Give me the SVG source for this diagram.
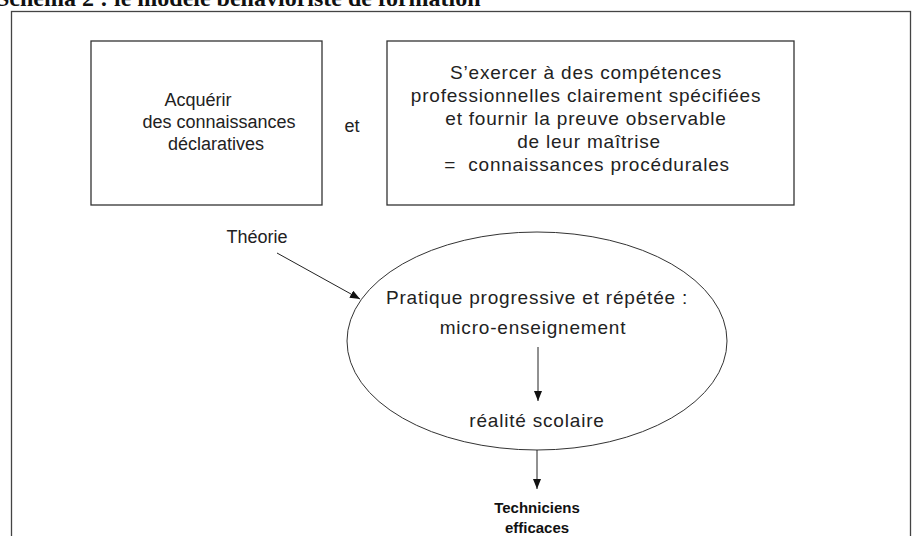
<svg xmlns="http://www.w3.org/2000/svg" width="912" height="536" viewBox="0 0 912 536">
<defs>
<style>
.t{font-family:"Liberation Sans",Arial,sans-serif;font-size:18px;fill:#222;text-anchor:middle}
.w{font-family:"Liberation Sans",Arial,sans-serif;font-size:19px;letter-spacing:0.8px;fill:#222;text-anchor:middle}
.b{font-family:"Liberation Sans",Arial,sans-serif;font-size:15px;font-weight:bold;fill:#111;text-anchor:middle}
.box{fill:#fff;stroke:#333;stroke-width:1.3}
.ln{stroke:#222;stroke-width:1;fill:none}
</style>
<marker id="ah" viewBox="0 0 10 8" refX="10" refY="4" markerWidth="10" markerHeight="8" markerUnits="userSpaceOnUse" orient="auto">
<path d="M0,0 L10,4 L0,8 Z" fill="#111"/>
</marker>
</defs>
<rect width="912" height="536" fill="#fff"/>
<text x="-4" y="6" style="font-family:'Liberation Serif','Times New Roman',serif;font-size:24px;font-weight:bold;fill:#111">Schéma 2 : le modèle behavioriste de formation</text>
<rect id="frame" x="11.5" y="11.5" width="899" height="560" fill="none" stroke="#444" stroke-width="1.3"/>
<g id="box-declaratives">
<rect class="box" x="91" y="41" width="231" height="164"/>
<text class="t" x="198" y="106">Acquérir</text>
<text class="t" x="219" y="128">des connaissances</text>
<text class="t" x="216" y="150">déclaratives</text>
</g>
<g id="et"><text class="t" x="352" y="132">et</text></g>
<g id="box-procedurales">
<rect class="box" x="387" y="41" width="407" height="164"/>
<text class="w" x="586" y="79">S’exercer à des compétences</text>
<text class="w" x="586" y="102">professionnelles clairement spécifiées</text>
<text class="w" x="586" y="125">et fournir la preuve observable</text>
<text class="w" x="589" y="148">de leur maîtrise</text>
<text class="w" x="587" y="171" xml:space="preserve">=  connaissances procédurales</text>
</g>
<g id="theorie"><text class="t" x="257" y="243">Théorie</text></g>
<g id="pratique">
<ellipse cx="537" cy="341" rx="190" ry="109" fill="none" stroke="#333" stroke-width="1"/>
<text class="w" x="537" y="304">Pratique progressive et répétée :</text>
<text class="w" x="533" y="334">micro-enseignement</text>
<text class="w" x="537" y="427">réalité scolaire</text>
</g>
<g id="techniciens">
<text class="b" x="537" y="513">Techniciens</text>
<text class="b" x="537" y="533">efficaces</text>
</g>
<g id="connectors">
<line class="ln" x1="277" y1="253" x2="360" y2="299" marker-end="url(#ah)"/>
<line class="ln" x1="538" y1="347" x2="538" y2="401" marker-end="url(#ah)"/>
<line class="ln" x1="537" y1="450" x2="537" y2="489" marker-end="url(#ah)"/>
</g>
</svg>
